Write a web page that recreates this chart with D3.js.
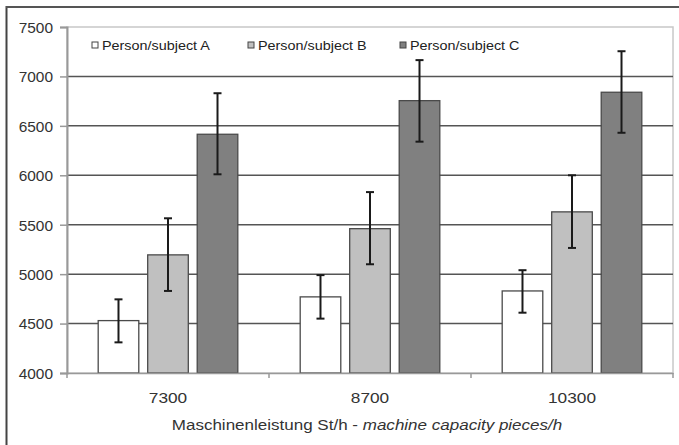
<!DOCTYPE html>
<meta charset="utf-8">
<head>
  <title>Machine capacity</title>
</head>

<style>
  body {
    margin: 0;
    background: #fff;
    font-family: "Liberation Sans", Arial, sans-serif;
  }
  text { fill: #333; }
</style>

<body>
<svg id="chart" width="679" height="445"></svg>

<script src="https://cdnjs.cloudflare.com/ajax/libs/d3/7.8.5/d3.min.js"></script>
<script>
  var categories = ["7300", "8700", "10300"];
  var series = ["Person/subject A", "Person/subject B", "Person/subject C"];
  var meanA = [4530, 4770, 4830];
  var meanB = [5195, 5460, 5630];
  var meanC = [6415, 6755, 6840];
  var lowA = [4310, 4550, 4610];
  var highA = [4745, 4990, 5040];
  var lowB = [4830, 5100, 5265];
  var highB = [5565, 5830, 6000];
  var lowC = [6010, 6340, 6430];
  var highC = [6830, 7165, 7255];
  var yTicks = [4000, 4500, 5000, 5500, 6000, 6500, 7000, 7500];
  var fills = ["#ffffff", "#c0c0c0", "#808080"];

  var means = [meanA, meanB, meanC];
  var lows = [lowA, lowB, lowC];
  var highs = [highA, highB, highC];

  // rows for the bars
  var rows = [];
  categories.forEach(function(c, i) {
    series.forEach(function(s, j) {
      rows.push({cat: c, s: s, j: j, v: means[j][i], lo: lows[j][i], hi: highs[j][i]});
    });
  });

  var sx = 1.15; // the picture is stretched horizontally
  var svg = d3.select('#chart');

  // frame (left and top only, the rest is cut off)
  svg.append('line').attr('x1', 6.5).attr('x2', 6.5).attr('y1', 6).attr('y2', 445)
    .attr('stroke', '#444').attr('stroke-width', 2);
  svg.append('line').attr('x1', 6).attr('x2', 679).attr('y1', 7).attr('y2', 7)
    .attr('stroke', '#555').attr('stroke-width', 2);

  var pLeft = 67, pRight = 673, pTop = 27, pBottom = 373;

  var y = d3.scaleLinear().domain([4000, 7500]).range([pBottom, pTop]);
  var x0 = d3.scaleBand().domain(categories).range([pLeft, pRight]);
  var x1 = d3.scaleBand().domain(series).range([0, x0.bandwidth()])
    .paddingInner(0.18).paddingOuter(0.63);

  // plot border
  svg.append('rect').attr('x', pLeft).attr('y', pTop)
    .attr('width', pRight - pLeft).attr('height', pBottom - pTop)
    .attr('fill', 'none').attr('stroke', '#c8c8c8').attr('stroke-width', 1.5);

  // gridlines
  svg.append('g').selectAll('line')
    .data(yTicks.filter(function(d) { return d > 4000 && d < 7500; }))
    .enter().append('line')
    .attr('x1', pLeft).attr('x2', pRight)
    .attr('y1', function(d) { return y(d); })
    .attr('y2', function(d) { return y(d); })
    .attr('stroke', '#555').attr('stroke-width', 1.5);

  // y axis
  var yAxis = svg.append('g').attr('transform', 'translate(' + pLeft + ',0)')
    .call(d3.axisLeft(y).tickValues(yTicks).tickFormat(d3.format('d'))
      .tickSize(7).tickPadding(0));
  yAxis.select('.domain').attr('stroke', '#999').attr('stroke-width', 2);
  yAxis.selectAll('.tick line').attr('stroke', '#999').attr('stroke-width', 1.5);
  yAxis.selectAll('.tick text')
    .attr('x', -14 / 1.03).attr('dy', '0.36em')
    .attr('transform', 'scale(1.03,1)')
    .style('font-size', '15px').style('fill', '#333');

  // bars
  var bars = svg.append('g').selectAll('g')
    .data(rows).enter().append('g')
    .attr('transform', function(d) { return 'translate(' + (x0(d.cat) + x1(d.s)) + ',0)'; });

  bars.append('rect')
    .attr('x', 0)
    .attr('y', function(d) { return y(d.v); })
    .attr('width', x1.bandwidth())
    .attr('height', function(d) { return y(4000) - y(d.v); })
    .attr('fill', function(d) { return fills[d.j]; })
    .attr('stroke', '#4a4a4a').attr('stroke-width', 1.3);

  // error bars
  var cx = x1.bandwidth() / 2;
  bars.append('line')
    .attr('x1', cx).attr('x2', cx)
    .attr('y1', function(d) { return y(d.lo); })
    .attr('y2', function(d) { return y(d.hi); })
    .attr('stroke', '#1a1a1a').attr('stroke-width', 2);
  bars.selectAll('.cap')
    .data(function(d) { return [d.lo, d.hi]; })
    .enter().append('line').attr('class', 'cap')
    .attr('x1', cx - 4).attr('x2', cx + 4)
    .attr('y1', function(v) { return y(v); })
    .attr('y2', function(v) { return y(v); })
    .attr('stroke', '#1a1a1a').attr('stroke-width', 2);

  // x axis
  var xAxis = svg.append('g').attr('transform', 'translate(0,' + pBottom + ')')
    .call(d3.axisBottom(x0).tickSize(0).tickPadding(0));
  xAxis.select('.domain').attr('stroke', '#999').attr('stroke-width', 1.5);
  xAxis.selectAll('.tick text')
    .attr('y', 30).attr('dy', 0)
    .attr('transform', 'scale(' + sx + ',1)')
    .style('font-size', '15px').style('fill', '#333');

  var bounds = categories.map(function(c) { return x0(c); }).concat([pRight]);
  svg.append('g').selectAll('line').data(bounds).enter().append('line')
    .attr('x1', function(d) { return d; }).attr('x2', function(d) { return d; })
    .attr('y1', pBottom).attr('y2', pBottom + 5)
    .attr('stroke', '#999').attr('stroke-width', 1.5);

  // axis title
  var title = svg.append('text')
    .attr('transform', 'translate(' + 367 + ',430) scale(' + sx + ',1)')
    .attr('text-anchor', 'middle')
    .style('font-size', '14.8px');
  title.append('tspan').text('Maschinenleistung St/h - ');
  title.append('tspan').style('font-style', 'italic').text('machine capacity pieces/h');

  // legend
  var legendX = [92, 248, 400];
  var legend = svg.append('g').selectAll('g').data(series).enter().append('g')
    .attr('transform', function(d, i) { return 'translate(' + legendX[i] + ',42)'; });
  legend.append('rect').attr('x', 0).attr('y', 0).attr('width', 6).attr('height', 6)
    .attr('fill', function(d, i) { return fills[i]; })
    .attr('stroke', '#444').attr('stroke-width', 1);
  legend.append('text')
    .attr('transform', 'translate(10,7.5) scale(' + sx + ',1)')
    .style('font-size', '12.5px').style('fill', '#222')
    .text(function(d) { return d; });
</script>
</body>
</html>
